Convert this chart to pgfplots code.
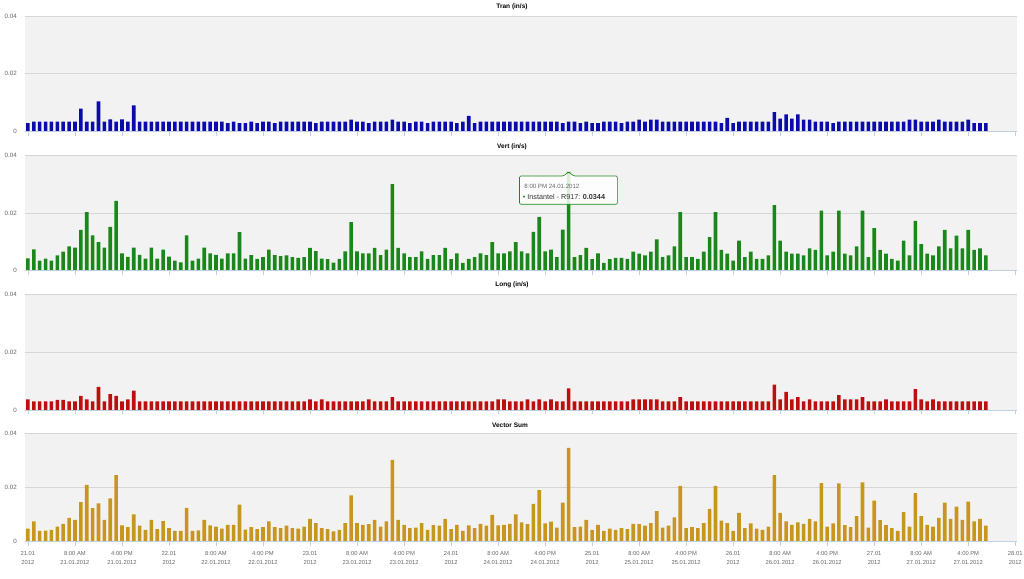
\documentclass[border=0pt]{standalone}
\usepackage{fontspec}
\setmainfont{Liberation Sans}
\usepackage{pgfplots}
\usepackage{pgfplotstable}
\pgfplotsset{compat=1.18}

\definecolor{bggray}{RGB}{242,242,242}
\definecolor{gridgray}{RGB}{214,214,214}
\definecolor{axisgray}{RGB}{192,208,224}
\definecolor{labelgray}{RGB}{102,102,102}
\definecolor{tranblue}{RGB}{10,10,175}
\definecolor{vertgreen}{RGB}{25,135,25}
\definecolor{longred}{RGB}{190,15,15}
\definecolor{sumgold}{RGB}{200,150,30}

% hourly peaks, hour 0 = 21.01.2012 00:00
\pgfplotstableread{
h tran vert long vsum
0 0.0030 0.0043 0.0037 0.0048
1 0.0035 0.0074 0.0030 0.0075
2 0.0035 0.0035 0.0030 0.0040
3 0.0035 0.0042 0.0030 0.0041
4 0.0035 0.0035 0.0030 0.0044
5 0.0035 0.0053 0.0035 0.0056
6 0.0035 0.0066 0.0035 0.0066
7 0.0035 0.0085 0.0030 0.0088
8 0.0035 0.0080 0.0030 0.0081
9 0.0080 0.0142 0.0049 0.0146
10 0.0035 0.0204 0.0037 0.0210
11 0.0035 0.0123 0.0030 0.0124
12 0.0105 0.0099 0.0080 0.0141
13 0.0035 0.0080 0.0030 0.0081
14 0.0043 0.0152 0.0055 0.0160
15 0.0035 0.0243 0.0049 0.0246
16 0.0043 0.0060 0.0030 0.0060
17 0.0035 0.0048 0.0037 0.0054
18 0.0091 0.0080 0.0067 0.0101
19 0.0035 0.0055 0.0030 0.0059
20 0.0035 0.0042 0.0030 0.0044
21 0.0035 0.0080 0.0030 0.0081
22 0.0035 0.0042 0.0030 0.0046
23 0.0035 0.0073 0.0030 0.0076
24 0.0035 0.0049 0.0030 0.0050
25 0.0035 0.0035 0.0030 0.0040
26 0.0035 0.0029 0.0030 0.0040
27 0.0035 0.0123 0.0030 0.0125
28 0.0035 0.0035 0.0030 0.0040
29 0.0035 0.0042 0.0030 0.0042
30 0.0035 0.0080 0.0030 0.0081
31 0.0035 0.0060 0.0030 0.0060
32 0.0035 0.0055 0.0030 0.0056
33 0.0035 0.0042 0.0030 0.0048
34 0.0030 0.0060 0.0030 0.0062
35 0.0035 0.0060 0.0030 0.0062
36 0.0030 0.0134 0.0030 0.0137
37 0.0030 0.0042 0.0030 0.0045
38 0.0035 0.0054 0.0030 0.0054
39 0.0030 0.0041 0.0030 0.0046
40 0.0035 0.0047 0.0030 0.0054
41 0.0035 0.0073 0.0030 0.0075
42 0.0030 0.0054 0.0030 0.0054
43 0.0035 0.0051 0.0030 0.0050
44 0.0035 0.0053 0.0030 0.0059
45 0.0035 0.0047 0.0030 0.0050
46 0.0035 0.0045 0.0030 0.0048
47 0.0035 0.0047 0.0030 0.0056
48 0.0035 0.0079 0.0037 0.0084
49 0.0030 0.0068 0.0030 0.0069
50 0.0035 0.0042 0.0037 0.0050
51 0.0035 0.0040 0.0030 0.0046
52 0.0035 0.0028 0.0030 0.0038
53 0.0035 0.0041 0.0030 0.0044
54 0.0035 0.0067 0.0030 0.0069
55 0.0042 0.0169 0.0030 0.0171
56 0.0035 0.0067 0.0030 0.0069
57 0.0035 0.0060 0.0030 0.0062
58 0.0030 0.0060 0.0037 0.0065
59 0.0035 0.0079 0.0030 0.0081
60 0.0035 0.0054 0.0030 0.0056
61 0.0035 0.0073 0.0030 0.0075
62 0.0042 0.0301 0.0045 0.0302
63 0.0035 0.0079 0.0030 0.0081
64 0.0035 0.0060 0.0030 0.0062
65 0.0030 0.0047 0.0030 0.0050
66 0.0035 0.0047 0.0030 0.0052
67 0.0035 0.0067 0.0030 0.0069
68 0.0030 0.0041 0.0030 0.0044
69 0.0035 0.0054 0.0030 0.0061
70 0.0035 0.0054 0.0030 0.0059
71 0.0035 0.0079 0.0030 0.0084
72 0.0035 0.0040 0.0030 0.0046
73 0.0030 0.0060 0.0030 0.0062
74 0.0035 0.0027 0.0030 0.0040
75 0.0055 0.0041 0.0030 0.0060
76 0.0030 0.0047 0.0030 0.0050
77 0.0035 0.0060 0.0030 0.0066
78 0.0035 0.0054 0.0030 0.0059
79 0.0035 0.0099 0.0030 0.0099
80 0.0035 0.0060 0.0037 0.0060
81 0.0035 0.0060 0.0037 0.0062
82 0.0035 0.0067 0.0030 0.0066
83 0.0035 0.0099 0.0030 0.0101
84 0.0035 0.0067 0.0030 0.0071
85 0.0035 0.0060 0.0037 0.0065
86 0.0035 0.0135 0.0030 0.0140
87 0.0035 0.0187 0.0037 0.0190
88 0.0035 0.0067 0.0030 0.0068
89 0.0035 0.0073 0.0037 0.0074
90 0.0035 0.0047 0.0030 0.0052
91 0.0030 0.0143 0.0030 0.0144
92 0.0035 0.0344 0.0075 0.0346
93 0.0035 0.0047 0.0030 0.0054
94 0.0030 0.0054 0.0030 0.0056
95 0.0035 0.0079 0.0030 0.0081
96 0.0030 0.0040 0.0030 0.0044
97 0.0030 0.0060 0.0030 0.0062
98 0.0035 0.0027 0.0030 0.0040
99 0.0035 0.0040 0.0030 0.0048
100 0.0035 0.0045 0.0030 0.0044
101 0.0030 0.0045 0.0030 0.0050
102 0.0035 0.0041 0.0030 0.0046
103 0.0035 0.0066 0.0037 0.0066
104 0.0042 0.0059 0.0037 0.0065
105 0.0035 0.0053 0.0037 0.0059
106 0.0042 0.0066 0.0037 0.0069
107 0.0042 0.0109 0.0037 0.0113
108 0.0035 0.0047 0.0030 0.0052
109 0.0035 0.0053 0.0030 0.0059
110 0.0035 0.0085 0.0030 0.0090
111 0.0035 0.0204 0.0045 0.0206
112 0.0035 0.0047 0.0030 0.0050
113 0.0035 0.0047 0.0030 0.0054
114 0.0035 0.0041 0.0030 0.0050
115 0.0035 0.0066 0.0030 0.0069
116 0.0035 0.0117 0.0030 0.0121
117 0.0035 0.0204 0.0030 0.0206
118 0.0030 0.0072 0.0030 0.0078
119 0.0048 0.0059 0.0030 0.0069
120 0.0030 0.0035 0.0030 0.0040
121 0.0035 0.0105 0.0030 0.0106
122 0.0035 0.0047 0.0030 0.0050
123 0.0035 0.0066 0.0030 0.0068
124 0.0035 0.0041 0.0030 0.0048
125 0.0035 0.0041 0.0030 0.0044
126 0.0035 0.0053 0.0030 0.0056
127 0.0068 0.0228 0.0088 0.0246
128 0.0045 0.0105 0.0037 0.0106
129 0.0060 0.0066 0.0063 0.0075
130 0.0045 0.0059 0.0037 0.0062
131 0.0060 0.0059 0.0045 0.0071
132 0.0042 0.0053 0.0030 0.0066
133 0.0042 0.0078 0.0037 0.0084
134 0.0035 0.0072 0.0030 0.0075
135 0.0035 0.0209 0.0030 0.0216
136 0.0035 0.0053 0.0030 0.0056
137 0.0030 0.0066 0.0030 0.0068
138 0.0035 0.0209 0.0052 0.0215
139 0.0035 0.0059 0.0037 0.0061
140 0.0035 0.0053 0.0037 0.0054
141 0.0035 0.0085 0.0037 0.0094
142 0.0035 0.0209 0.0045 0.0219
143 0.0035 0.0047 0.0030 0.0052
144 0.0035 0.0148 0.0030 0.0152
145 0.0035 0.0072 0.0030 0.0080
146 0.0035 0.0059 0.0037 0.0061
147 0.0035 0.0041 0.0030 0.0050
148 0.0035 0.0035 0.0030 0.0040
149 0.0035 0.0105 0.0030 0.0109
150 0.0042 0.0053 0.0030 0.0056
151 0.0042 0.0173 0.0072 0.0179
152 0.0035 0.0092 0.0037 0.0094
153 0.0035 0.0059 0.0030 0.0062
154 0.0035 0.0053 0.0037 0.0056
155 0.0042 0.0085 0.0030 0.0088
156 0.0035 0.0142 0.0030 0.0144
157 0.0035 0.0078 0.0030 0.0084
158 0.0035 0.0122 0.0030 0.0129
159 0.0035 0.0078 0.0030 0.0081
160 0.0042 0.0142 0.0030 0.0148
161 0.0030 0.0072 0.0030 0.0075
162 0.0030 0.0078 0.0030 0.0084
163 0.0030 0.0053 0.0030 0.0059
}\data

\pgfplotsset{
  panel/.style={
    scale only axis, width=992pt,
    xmin=-0.5, xmax=168.3, ymin=0, ymax=0.04,
    enlargelimits=false,
    scaled y ticks=false,
    axis background/.style={fill=bggray},
    axis line style={draw=none},
    ymajorgrids, grid style={draw=gridgray, line width=0.7pt},
    ytick={0,0.02,0.04}, yticklabels={0,0.02,0.04},
    ytick style={draw=none},
    yticklabel style={font=\fontsize{6.2}{7}\selectfont, text=labelgray, inner sep=0pt, xshift=-8pt},
    xtick={0,8,...,168}, xticklabels={},
    xtick pos=bottom, xtick align=outside, major tick length=4pt,
    xtick style={draw=axisgray, line width=0.6pt},
    ybar, bar width=3.6pt,
    after end axis/.code={\draw[axisgray, line width=0.6pt] (rel axis cs:0,0) -- (rel axis cs:1,0);},
  },
}
\tikzset{ptitle/.style={font=\bfseries\fontsize{6.5}{7}\selectfont}}

\begin{document}
\begin{tikzpicture}
\useasboundingbox (0,0) rectangle (1024pt,578pt);

% Tran
\begin{axis}[panel, height=115.7pt, at={(25pt,446.3pt)}, anchor=south west]
\addplot[fill=tranblue, draw=none] table[x=h, y=tran] {\data};
\end{axis}

% Vert
\begin{axis}[panel, height=115pt, at={(25pt,307.3pt)}, anchor=south west]
\addplot[fill=vertgreen, draw=none] table[x=h, y=vert] {\data};
\filldraw[fill=white, fill opacity=0.85, draw=vertgreen, line width=0.6pt, rounded corners=1.2pt]
  (axis cs:83.65,0.0231) -- (axis cs:100.3,0.0231) -- (axis cs:100.3,0.03294)
  -- (axis cs:92.9,0.03294) -- (axis cs:92,0.0343) -- (axis cs:91.1,0.03294)
  -- (axis cs:83.65,0.03294) -- cycle;
\node[anchor=west, inner sep=0pt, font=\fontsize{6.1}{7}\selectfont, text=labelgray]
  at (axis cs:84.45,0.02946) {8:00 PM 24.01.2012};
\node[anchor=west, inner sep=0pt, font=\fontsize{7.2}{8}\selectfont, text=black!80]
  at (axis cs:84.2,0.02563) {{\color{vertgreen}\textbullet} Instantel - R917: \textbf{0.0344}};
\end{axis}

% Long
\begin{axis}[panel, height=115.3pt, at={(25pt,168pt)}, anchor=south west]
\addplot[fill=longred, draw=none] table[x=h, y=long] {\data};
\end{axis}

% Vector Sum
\begin{axis}[panel, height=108.4pt, at={(25pt,36.3pt)}, anchor=south west,
  xticklabels={{21.01\\2012},{8:00 AM\\21.01.2012},{4:00 PM\\21.01.2012},
    {22.01\\2012},{8:00 AM\\22.01.2012},{4:00 PM\\22.01.2012},
    {23.01\\2012},{8:00 AM\\23.01.2012},{4:00 PM\\23.01.2012},
    {24.01\\2012},{8:00 AM\\24.01.2012},{4:00 PM\\24.01.2012},
    {25.01\\2012},{8:00 AM\\25.01.2012},{4:00 PM\\25.01.2012},
    {26.01\\2012},{8:00 AM\\26.01.2012},{4:00 PM\\26.01.2012},
    {27.01\\2012},{8:00 AM\\27.01.2012},{4:00 PM\\27.01.2012},
    {28.01\\2012}},
  xticklabel style={align=center, font=\fontsize{5.8}{9.3}\selectfont, text=labelgray, yshift=-2pt}]
\addplot[fill=sumgold, draw=none] table[x=h, y=vsum] {\data};
\end{axis}

\node[ptitle] at (512pt,571pt) {Tran (in/s)};
\node[ptitle] at (512pt,431pt) {Vert (in/s)};
\node[ptitle] at (512pt,293pt) {Long (in/s)};
\node[ptitle] at (510pt,153pt) {Vector Sum};
\end{tikzpicture}
\end{document}
